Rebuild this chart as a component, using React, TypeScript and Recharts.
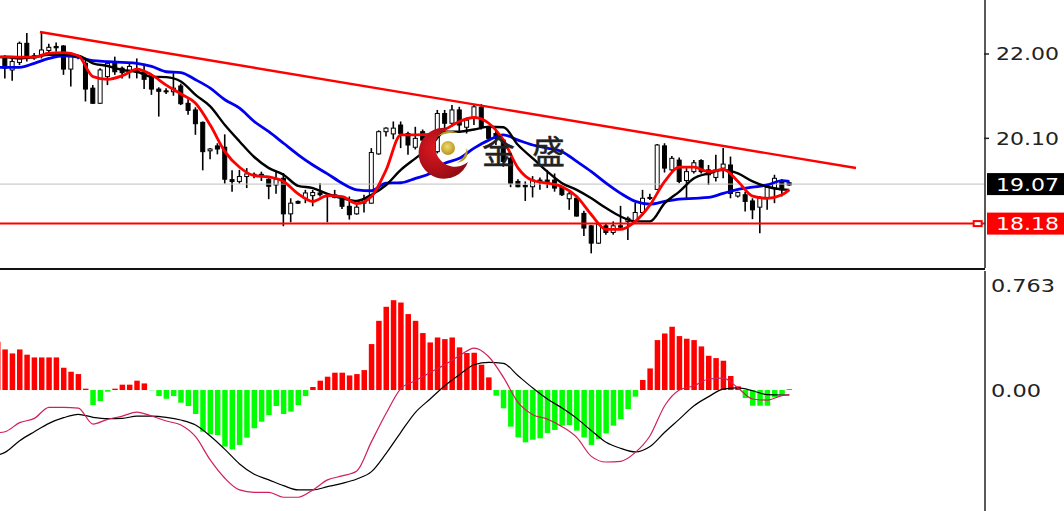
import { Bar, Cell, ComposedChart, Line, ReferenceDot, ReferenceLine, XAxis, YAxis } from "recharts"

// price candles, first one is cut by the left edge
const opens = [21.96,21.90,21.64,21.81,22.24,21.96,21.98,22.08,22.17,22.18,21.66,21.96,21.79,21.23,20.89,21.49,21.79,21.68,21.60,21.64,21.60,21.49,21.21,21.17,21.15,21.28,20.89,20.74,20.46,19.82,19.93,19.90,19.17,19.13,19.24,19.29,19.29,19.18,19.05,19.20,18.40,18.68,18.75,18.81,18.87,18.81,18.77,18.73,18.57,18.40,18.64,18.64,19.75,20.25,20.20,20.40,20.21,19.90,20.25,20.18,19.80,20.66,20.44,20.74,20.35,20.55,20.80,20.34,20.21,20.06,19.65,19.13,19.04,19.01,19.16,19.16,19.16,19.00,18.74,18.75,18.41,18.13,17.74,18.13,17.98,18.13,18.23,18.23,18.43,18.77,18.95,19.93,19.39,19.61,19.15,19.35,19.60,19.39,19.22,19.43,19.50,18.80,18.83,18.69,18.55,18.77,18.98,19.13,19.10]
const closes = [21.90,21.68,21.83,22.24,21.90,21.91,22.09,22.15,22.14,21.66,21.94,21.93,21.21,20.89,21.64,21.79,21.60,21.58,21.72,21.59,21.43,21.21,21.16,21.15,21.23,20.88,20.73,20.43,19.80,19.86,19.86,19.18,19.13,19.24,19.30,19.28,19.24,19.02,19.18,18.40,18.64,18.64,18.87,18.88,18.83,18.79,18.83,18.57,18.38,18.55,18.72,19.78,20.25,20.33,20.33,20.21,19.95,20.10,20.06,19.99,20.66,20.44,20.74,20.40,20.51,20.81,20.35,20.10,20.10,19.58,19.09,19.01,19.01,19.16,19.13,19.13,18.98,18.83,18.85,18.35,18.08,17.74,18.17,17.98,18.13,18.10,18.30,18.43,18.75,18.75,19.95,19.43,19.65,19.13,19.35,19.55,19.35,19.28,19.39,19.52,18.86,18.88,18.68,18.49,18.77,19.00,19.20,18.94,19.05]
const highs = [22.02,21.98,21.90,22.28,22.47,22.02,22.50,22.23,22.26,22.20,22.02,21.98,21.87,21.30,21.68,21.83,21.94,21.72,21.79,21.90,21.75,21.53,21.25,21.23,21.60,21.33,20.98,20.80,20.48,19.88,19.99,20.19,19.38,19.39,19.43,19.33,19.35,19.20,19.35,19.32,18.75,18.70,18.94,18.94,19.09,18.83,18.94,18.79,18.79,18.60,18.83,19.88,20.28,20.35,20.48,20.48,20.25,20.36,20.30,20.21,20.74,20.74,20.85,20.81,20.57,20.87,20.87,20.36,20.29,20.10,19.69,19.18,19.13,19.25,19.22,19.39,19.31,19.01,18.90,18.79,18.47,18.15,18.20,18.19,18.23,18.58,18.34,18.65,18.94,18.85,19.97,19.99,19.70,19.67,19.43,19.61,19.63,19.50,19.73,19.88,19.69,18.90,18.90,18.75,18.80,19.05,19.28,19.18,19.13]
const lows = [21.83,21.45,21.40,21.75,21.83,21.87,21.90,22.02,22.05,21.53,21.27,21.88,20.93,20.88,20.88,21.30,21.53,21.45,21.45,21.45,21.21,21.08,20.59,21.10,21.06,20.85,20.63,20.18,19.38,19.63,19.74,19.08,18.90,19.08,18.98,19.20,19.14,18.73,18.85,18.12,18.21,18.62,18.64,18.57,18.79,18.21,18.75,18.51,18.27,18.38,18.43,18.63,19.73,20.14,20.08,19.88,19.73,19.85,19.95,19.91,19.76,20.21,20.36,20.25,20.21,20.40,20.30,20.06,19.95,19.46,19.00,19.00,18.69,18.77,18.94,18.98,18.90,18.80,18.49,18.34,17.90,17.51,17.72,17.93,17.93,18.05,17.81,18.19,18.38,18.71,18.94,19.33,19.35,19.09,18.73,19.31,19.31,19.05,19.13,19.20,18.75,18.77,18.45,18.28,17.96,18.49,18.64,18.79,19.03]

// moving averages and macd lines, read every second bar
const sampleBars = [-1,0,2,4,6,8,10,12,14,16,18,20,22,24,26,28,30,32,34,36,38,40,42,44,46,48,50,52,54,56,58,60,62,64,66,68,70,72,74,76,78,80,82,84,86,88,90,92,94,96,98,100,102,104,106,107]
const fastMa = [21.93,21.94,21.93,21.93,22.02,22.03,21.96,21.49,21.43,21.51,21.66,21.53,21.30,21.10,20.89,20.40,19.80,19.45,19.26,19.23,19.13,18.85,18.68,18.81,18.79,18.63,18.79,19.39,20.18,20.18,20.19,20.30,20.48,20.57,20.44,20.06,19.43,19.15,19.09,19.01,18.79,18.38,18.05,18.05,18.23,18.60,19.13,19.45,19.45,19.35,19.40,19.13,18.80,18.75,18.83,18.94]
const midMa = [21.93,21.93,21.90,21.93,21.98,21.98,21.96,21.79,21.73,21.64,21.60,21.49,21.48,21.38,21.08,20.82,20.40,20.03,19.68,19.43,19.28,19.03,18.98,18.85,18.75,18.69,18.83,19.05,19.39,19.65,19.91,20.25,20.25,20.30,20.36,20.35,19.95,19.65,19.35,19.09,18.94,18.75,18.53,18.34,18.23,18.23,18.64,18.90,19.20,19.31,19.39,19.31,19.13,19.01,18.95,18.94]
const slowMa = [21.70,21.70,21.70,21.79,21.90,21.96,21.93,21.85,21.83,21.81,21.79,21.72,21.60,21.58,21.42,21.23,20.97,20.78,20.48,20.25,19.99,19.73,19.50,19.30,19.09,18.94,18.92,19.09,19.10,19.20,19.31,19.54,19.65,19.88,20.06,20.18,20.06,19.95,19.88,19.80,19.58,19.35,19.09,18.86,18.68,18.62,18.68,18.73,18.75,18.77,18.86,18.95,19.00,19.05,19.15,19.13]
const macdDif = [-0.31,-0.303,-0.237,-0.206,-0.126,-0.126,-0.131,-0.247,-0.213,-0.189,-0.160,-0.189,-0.225,-0.254,-0.339,-0.508,-0.641,-0.726,-0.743,-0.743,-0.779,-0.779,-0.726,-0.653,-0.624,-0.588,-0.375,-0.169,0.01,0.068,0.128,0.184,0.249,0.305,0.242,0.092,-0.090,-0.179,-0.211,-0.266,-0.344,-0.482,-0.523,-0.518,-0.453,-0.332,-0.114,0,0.031,0.08,0.087,0.015,-0.065,-0.073,-0.041,-0.034]
const macdDea = [-0.472,-0.453,-0.368,-0.303,-0.242,-0.201,-0.177,-0.198,-0.208,-0.206,-0.189,-0.189,-0.198,-0.218,-0.254,-0.334,-0.431,-0.537,-0.612,-0.653,-0.695,-0.726,-0.726,-0.702,-0.678,-0.646,-0.593,-0.460,-0.307,-0.162,-0.065,0.031,0.111,0.184,0.201,0.194,0.104,0.015,-0.065,-0.131,-0.206,-0.295,-0.380,-0.424,-0.450,-0.411,-0.307,-0.211,-0.114,-0.048,0.007,0.015,-0.005,-0.034,-0.036,-0.036]

const macdHist = [0.351,0.295,0.266,0.295,0.257,0.237,0.237,0.237,0.237,0.162,0.133,0.116,0.01,-0.109,-0.08,-0.012,0.01,0.039,0.039,0.068,0.048,-0.002,-0.044,-0.063,-0.044,-0.092,-0.116,-0.174,-0.303,-0.322,-0.327,-0.411,-0.431,-0.399,-0.346,-0.278,-0.230,-0.182,-0.116,-0.174,-0.157,-0.109,-0.044,0.022,0.068,0.097,0.126,0.126,0.106,0.116,0.145,0.334,0.503,0.605,0.653,0.636,0.552,0.503,0.414,0.346,0.382,0.370,0.382,0.310,0.269,0.271,0.184,0.092,-0.041,-0.133,-0.266,-0.344,-0.380,-0.361,-0.351,-0.312,-0.290,-0.259,-0.254,-0.295,-0.344,-0.399,-0.356,-0.315,-0.259,-0.211,-0.138,-0.048,0.073,0.157,0.363,0.411,0.460,0.392,0.373,0.363,0.317,0.249,0.232,0.213,0.102,0.027,-0.058,-0.114,-0.114,-0.114,-0.053,-0.034,0.005]

const priceTicks = [18.18, 19.07, 20.1, 22]
const macdTicks = [0, 0.763]
const lastPrice = 19.07
const supportPrice = 18.18
// trend line ends: bar position, price
const trendStart = { i: 4.77, p: 22.495 }
const trendEnd = { i: 116.1, p: 19.432 }

const barDomain = [-0.682, 133.7]

const candles = opens.map((open, idx) => ({
  i: idx - 1,
  open,
  close: closes[idx],
  high: highs[idx],
  low: lows[idx],
}))
const histRows = macdHist.map((v, idx) => ({ i: idx - 1, v }))
const toSeries = (values: number[]) => values.map((v, idx) => ({ i: sampleBars[idx], v }))

function Candle(props: any) {
  const { x, y, width, height, payload } = props
  const { open, close, high, low } = payload
  const perUnit = height / (high - low)
  const top = y + (high - Math.max(open, close)) * perUnit
  const bottom = y + (high - Math.min(open, close)) * perUnit
  const mid = x + width / 2
  const up = close > open
  return (
    <g>
      <line x1={mid} x2={mid} y1={y} y2={y + height} stroke="#000" strokeWidth={1.6} />
      <rect
        x={x + 0.5}
        y={top}
        width={width - 1}
        height={Math.max(bottom - top, 1)}
        fill={up ? "#fff" : "#000"}
        stroke="#000"
        strokeWidth={1}
      />
    </g>
  )
}

function PriceTick(props: any) {
  const { x, y, payload } = props
  const value = payload.value
  const boxed = value === lastPrice ? "#000" : value === supportPrice ? "#ff0000" : null
  return (
    <g>
      {boxed ? (
        <rect x={x - 6} y={y - 11} width={77} height={22} fill={boxed} />
      ) : (
        <line x1={x - 9} x2={x - 4} y1={y} y2={y} stroke="#222" strokeWidth={1.5} />
      )}
      <text
        x={x + 3}
        y={y + 6.5}
        textLength={63}
        lengthAdjust="spacingAndGlyphs"
        fontFamily="DejaVu Sans"
        fontSize={18}
        fill={boxed ? "#fff" : "#222"}
      >
        {value.toFixed(2)}
      </text>
    </g>
  )
}

function MacdTick(props: any) {
  const { x, y, payload } = props
  const label = payload.value === 0 ? "0.00" : payload.value.toFixed(3)
  return (
    <text
      x={x - 2}
      y={y + 6.5}
      textLength={payload.value === 0 ? 50 : 64}
      lengthAdjust="spacingAndGlyphs"
      fontFamily="DejaVu Sans"
      fontSize={18}
      fill="#222"
    >
      {label}
    </text>
  )
}

function Logo() {
  return (
    <svg width={1064} height={511} style={{ position: "absolute", left: 0, top: 0, pointerEvents: "none" }}>
      <defs>
        <radialGradient id="moon" cx="35%" cy="40%" r="70%">
          <stop offset="0%" stopColor="#e01822" />
          <stop offset="100%" stopColor="#8e0a12" />
        </radialGradient>
        <radialGradient id="ball" cx="45%" cy="40%" r="60%">
          <stop offset="0%" stopColor="#f0dc70" />
          <stop offset="100%" stopColor="#b8941e" />
        </radialGradient>
      </defs>
      <path d="M448 128 A25.5 25.5 0 1 0 468 162 A20 20 0 1 1 448 128 Z" fill="url(#moon)" />
      <circle cx={448} cy={148} r={7} fill="url(#ball)" />
      <path d="M437 137 Q446 127 458 133 Q447 132 437 137 Z" fill="#b8962e" />
      <path d="M457 163 Q465 158 467 148 Q470 160 457 163 Z" fill="#b8962e" />
      <text x={482} y={164} fontFamily="Noto Sans CJK SC" fontSize={33} fill="#222" stroke="#222" strokeWidth={0.4}>金</text>
      <text x={532} y={164} fontFamily="Noto Sans CJK SC" fontSize={33} fill="#222" stroke="#222" strokeWidth={0.4}>盛</text>
    </svg>
  )
}

export default function App() {
  return (
    <div style={{ position: "fixed", left: 0, top: 0, width: 1064, height: 511, background: "#fff", overflow: "hidden" }}>
      <div style={{ position: "absolute", left: 0, top: 0 }}>
        <ComposedChart width={1064} height={268} data={candles} margin={{ top: 0, right: 0, bottom: 0, left: 0 }}>
          <XAxis dataKey="i" type="number" domain={barDomain} allowDataOverflow hide />
          <YAxis
            orientation="right"
            width={79}
            domain={[17.18, 23.216]}
            allowDataOverflow
            ticks={priceTicks}
            interval={0}
            tick={<PriceTick />}
            tickLine={false}
            axisLine={{ stroke: "#222", strokeWidth: 1.5 }}
          />
          <ReferenceLine y={lastPrice} stroke="#c0c0c0" strokeWidth={1} />
          <Bar dataKey={(d: any) => [d.low, d.high]} barSize={5} shape={<Candle />} isAnimationActive={false} />
          <Line data={toSeries(slowMa)} dataKey="v" type="monotone" stroke="#0000ee" strokeWidth={2.8} dot={false} activeDot={false} isAnimationActive={false} />
          <Line data={toSeries(midMa)} dataKey="v" type="monotone" stroke="#000" strokeWidth={2.4} dot={false} activeDot={false} isAnimationActive={false} />
          <Line data={toSeries(fastMa)} dataKey="v" type="monotone" stroke="#ff0000" strokeWidth={2.8} dot={false} activeDot={false} isAnimationActive={false} />
          <ReferenceLine y={supportPrice} stroke="#ff0000" strokeWidth={2} />
          <ReferenceLine
            segment={[{ x: trendStart.i, y: trendStart.p }, { x: trendEnd.i, y: trendEnd.p }]}
            stroke="#ff0000"
            strokeWidth={2.4}
          />
          <ReferenceDot x={132.7} y={supportPrice} r={3} fill="#fff" stroke="#ff0000" strokeWidth={2} shape={(p: any) => (
            <rect x={p.cx - 4} y={p.cy - 2.5} width={8} height={5} fill="#fff" stroke="#ff0000" strokeWidth={2} />
          )} />
        </ComposedChart>
      </div>
      <div style={{ position: "absolute", left: 0, top: 268, width: 985, height: 2, background: "#111" }} />
      <div style={{ position: "absolute", left: 0, top: 271 }}>
        <ComposedChart width={1064} height={240} data={histRows} margin={{ top: 0, right: 0, bottom: 0, left: 0 }}>
          <XAxis dataKey="i" type="number" domain={barDomain} allowDataOverflow hide />
          <YAxis
            orientation="right"
            width={79}
            domain={[-0.879, 0.865]}
            allowDataOverflow
            ticks={macdTicks}
            interval={0}
            tick={<MacdTick />}
            tickLine={false}
            axisLine={{ stroke: "#222", strokeWidth: 1.5 }}
          />
          <Bar dataKey="v" barSize={5.5} isAnimationActive={false}>
            {histRows.map((row) => (
              <Cell key={row.i} fill={row.v >= 0 ? "#ff0000" : "#00ff00"} />
            ))}
          </Bar>
          <Line data={toSeries(macdDea)} dataKey="v" type="monotone" stroke="#000" strokeWidth={1.2} dot={false} activeDot={false} isAnimationActive={false} />
          <Line data={toSeries(macdDif)} dataKey="v" type="monotone" stroke="#d0205a" strokeWidth={1.2} dot={false} activeDot={false} isAnimationActive={false} />
        </ComposedChart>
      </div>
      <Logo />
    </div>
  )
}
